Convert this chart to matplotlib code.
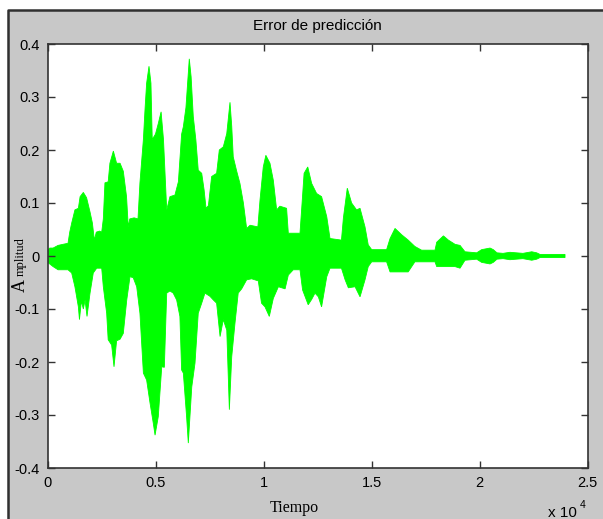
import numpy as np
import matplotlib.pyplot as plt
from matplotlib.patches import Rectangle
from matplotlib.lines import Line2D

W, H = 603, 519

# envelope of the prediction error: (sample index, amplitude)
upper_n = [0, 100, 250, 480, 700, 940, 1020, 1110, 1260, 1420, 1500, 1650, 1800, 1960,
           2070, 2160, 2250, 2400, 2500, 2575, 2650, 2800, 2880, 3040, 3190, 3350, 3500,
           3650, 3730, 3800, 4000, 4180, 4270, 4430, 4510, 4580, 4690, 4780, 4840, 4990,
           5120, 5250, 5360, 5510, 5660, 5890, 6050, 6200, 6280, 6400, 6555, 6640, 6740,
           6860, 6970, 7130, 7240, 7330, 7440, 7590, 7820, 7945, 8130, 8290, 8440, 8520,
           8590, 8750, 8900, 9060, 9210, 9370, 9730, 9830, 9980, 10100, 10290, 10445,
           10600, 10750, 11060, 11140, 11680, 11760, 11870, 12040, 12220, 12450, 12680,
           12920, 13070, 13600, 13690, 13870, 14070, 14300, 14460, 14690, 14840, 15000,
           15690, 15850, 16080, 16390, 16690, 17000, 17310, 17930, 18010, 18320, 18550,
           18860, 19090, 19320, 19860, 20090, 20480, 20630, 20800, 21080, 21400, 22000,
           22410, 22640, 22790, 23950]
upper_v = [0.012, 0.015, 0.015, 0.020, 0.022, 0.024, 0.045, 0.062, 0.087, 0.090, 0.112,
           0.120, 0.110, 0.083, 0.062, 0.030, 0.045, 0.047, 0.045, 0.070, 0.138, 0.140,
           0.175, 0.198, 0.175, 0.175, 0.160, 0.112, 0.055, 0.070, 0.072, 0.070, 0.138,
           0.220, 0.280, 0.326, 0.358, 0.326, 0.220, 0.230, 0.250, 0.272, 0.220, 0.087,
           0.112, 0.115, 0.140, 0.230, 0.244, 0.280, 0.372, 0.338, 0.263, 0.219, 0.162,
           0.156, 0.125, 0.090, 0.095, 0.150, 0.156, 0.200, 0.206, 0.231, 0.290, 0.245,
           0.187, 0.160, 0.137, 0.100, 0.052, 0.058, 0.055, 0.106, 0.168, 0.190, 0.175,
           0.143, 0.087, 0.094, 0.090, 0.043, 0.043, 0.090, 0.156, 0.168, 0.137, 0.118,
           0.112, 0.074, 0.033, 0.030, 0.072, 0.128, 0.100, 0.087, 0.090, 0.055, 0.021,
           0.012, 0.012, 0.033, 0.052, 0.040, 0.030, 0.018, 0.011, 0.011, 0.026, 0.038,
           0.030, 0.022, 0.020, 0.008, 0.006, 0.012, 0.015, 0.012, 0.006, 0.005, 0.007,
           0.005, 0.008, 0.006, 0.003, 0.003]

lower_n = [0, 250, 480, 940, 1110, 1260, 1420, 1470, 1560, 1650, 1730, 1820, 1960, 2110,
           2270, 2500, 2575, 2730, 2800, 2960, 3070, 3190, 3350, 3500, 3660, 3810, 3960,
           4120, 4270, 4430, 4580, 4740, 4890, 4970, 5120, 5280, 5400, 5510, 5660, 5810,
           5970, 6120, 6200, 6280, 6430, 6510, 6670, 6820, 6970, 7130, 7280, 7510, 7670,
           7820, 7980, 8130, 8290, 8410, 8520, 8670, 8820, 8980, 9210, 9440, 9750, 9900,
           10060, 10260, 10445, 10680, 10990, 11140, 11370, 11680, 11800, 12060, 12220,
           12375, 12530, 12680, 12920, 13070, 13600, 13770, 13920, 14230, 14460, 14690,
           14840, 15000, 15690, 15850, 16690, 17000, 17930, 18010, 18860, 19090, 19320,
           19860, 20090, 20480, 20630, 20800, 21080, 21400, 22000, 22410, 22640, 22790,
           23950]
lower_v = [-0.012, -0.020, -0.026, -0.026, -0.032, -0.058, -0.096, -0.120, -0.085, -0.100,
           -0.083, -0.114, -0.070, -0.032, -0.023, -0.023, -0.058, -0.108, -0.158, -0.168,
           -0.209, -0.160, -0.157, -0.146, -0.083, -0.039, -0.041, -0.058, -0.108, -0.221,
           -0.234, -0.278, -0.316, -0.338, -0.303, -0.209, -0.210, -0.070, -0.066, -0.070,
           -0.083, -0.114, -0.215, -0.221, -0.303, -0.353, -0.247, -0.202, -0.108, -0.089,
           -0.070, -0.076, -0.083, -0.089, -0.152, -0.120, -0.140, -0.290, -0.190, -0.127,
           -0.070, -0.062, -0.045, -0.043, -0.047, -0.089, -0.096, -0.114, -0.080, -0.058,
           -0.062, -0.036, -0.026, -0.026, -0.064, -0.092, -0.082, -0.070, -0.077, -0.096,
           -0.039, -0.023, -0.023, -0.045, -0.060, -0.058, -0.077, -0.045, -0.020, -0.011,
           -0.011, -0.030, -0.030, -0.011, -0.011, -0.020, -0.020, -0.023, -0.008, -0.006,
           -0.012, -0.015, -0.012, -0.006, -0.005, -0.007, -0.005, -0.008, -0.006, -0.003,
           -0.003]

xticks = [0, 5000, 10000, 15000, 20000, 25000]
xtick_labels = ['0', '0.5', '1', '1.5', '2', '2.5']
yticks = [-0.4, -0.3, -0.2, -0.1, 0, 0.1, 0.2, 0.3, 0.4]
ytick_labels = ['-0.4', '-0.3', '-0.2', '-0.1', '0', '0.1', '0.2', '0.3', '0.4']

GRAY = '#c8c8c8'
GREEN = '#00ff00'


def fx(px):
    return px / W


def fy(py):
    return 1 - py / H


fig = plt.figure(figsize=(W / 100, H / 100), dpi=100, facecolor='white')

# window panel with dark edge on top and left
fig.patches.append(Rectangle((fx(8), 0), 1 - fx(8), fy(10), transform=fig.transFigure,
                             facecolor=GRAY, edgecolor='none', zorder=-2))
fig.lines.append(Line2D([fx(8), fx(8), 1], [0, fy(10), fy(10)], transform=fig.transFigure,
                        color='#303030', lw=1.8))

ax = fig.add_axes([fx(47.7), fy(468), fx(587.7) - fx(47.7), fy(44) - fy(468)])
ax.set_facecolor('white')

poly_x = np.concatenate([upper_n, lower_n[::-1]])
poly_y = np.concatenate([upper_v, lower_v[::-1]])
ax.fill(poly_x, poly_y, color=GREEN, lw=0.6, ec=GREEN)

ax.set_xlim(0, 25000)
ax.set_ylim(-0.4, 0.4)
ax.set_xticks(xticks)
ax.set_xticklabels(xtick_labels)
ax.set_yticks(yticks)
ax.set_yticklabels(ytick_labels)
ax.tick_params(direction='in', length=5, width=1, color='#333333', top=True, right=True,
               labelsize=10.5, pad=6)
for lab in ax.get_xticklabels() + ax.get_yticklabels():
    lab.set_fontfamily('Liberation Sans')
for s in ax.spines.values():
    s.set_color('#333333')
    s.set_linewidth(1.2)

ax.set_title('Error de predicción', fontsize=11, family='Liberation Sans', pad=10)

fig.text(fx(294), fy(508), 'Tiempo', family='Liberation Serif', fontsize=11.5,
         ha='center', va='center')
fig.text(fx(548), fy(513), 'x 10', family='Liberation Sans', fontsize=11,
         ha='left', va='center')
fig.text(fx(580), fy(505), '4', family='Liberation Sans', fontsize=7.5,
         ha='left', va='center')

# y label: large initial, smaller rest
fig.text(fx(20), fy(285), 'A', family='Liberation Serif', fontsize=13,
         rotation=90, ha='center', va='center')
fig.text(fx(21), fy(257), 'mplitud', family='Liberation Serif', fontsize=9,
         rotation=90, ha='center', va='center')

fig.savefig('out.png', dpi=100, facecolor='white')
